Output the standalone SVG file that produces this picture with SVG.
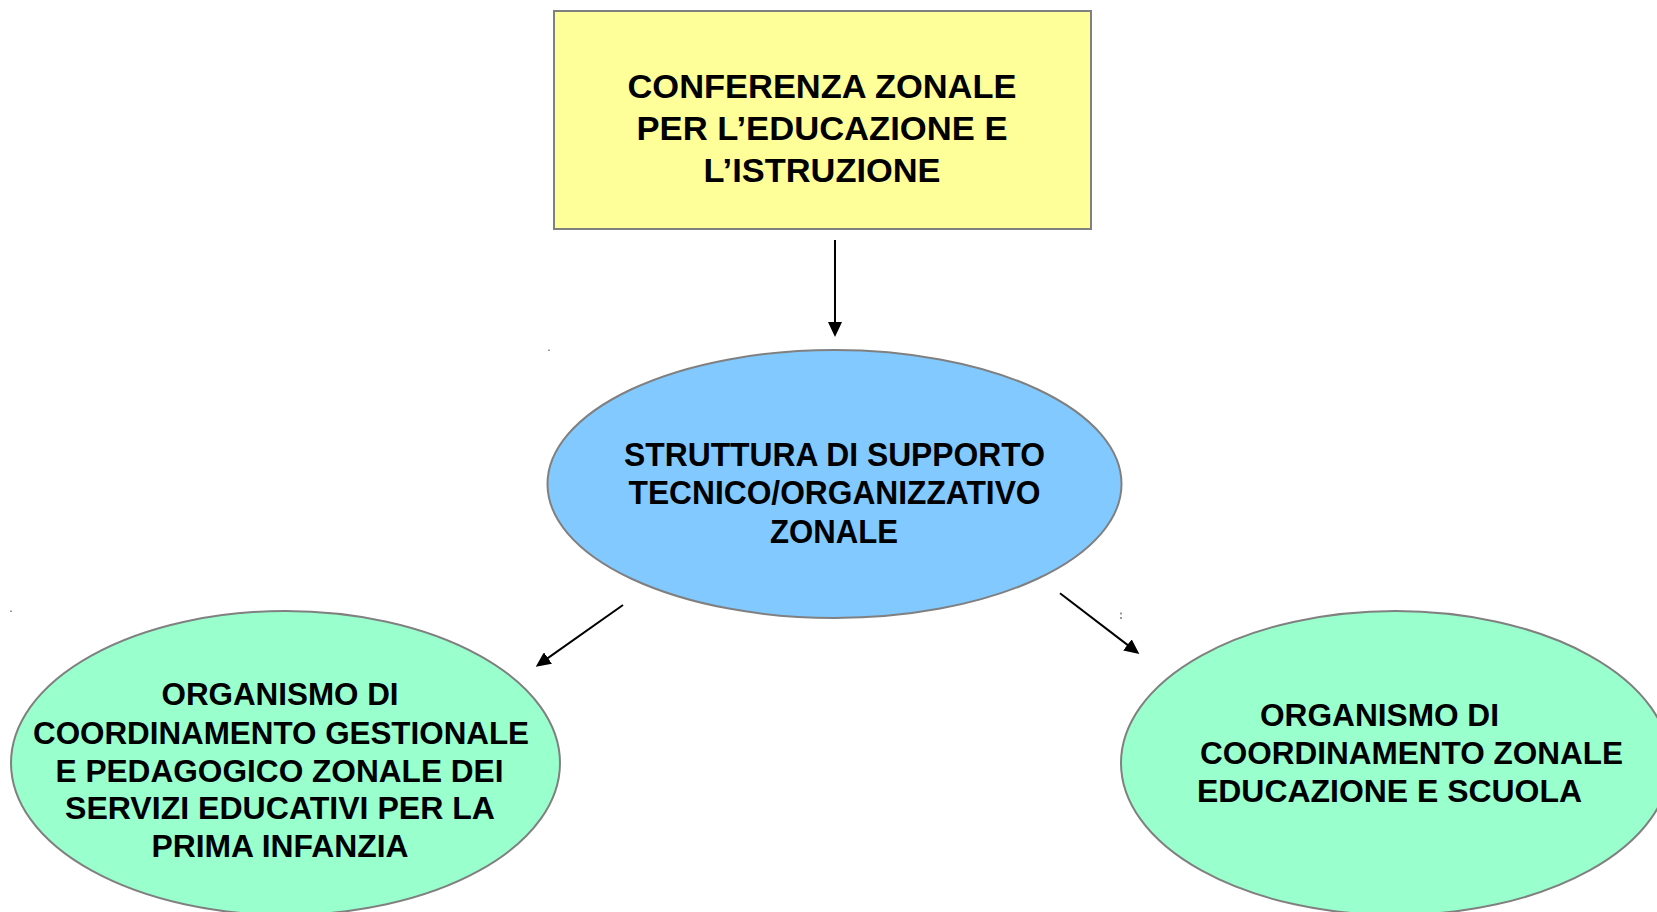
<svg xmlns="http://www.w3.org/2000/svg" width="1657" height="912" viewBox="0 0 1657 912">
<style>
  .lbl { font-family: "Liberation Sans", Arial, sans-serif; font-weight: bold; fill: #000; }
  .big { font-size: 34px; }
  .mid { font-size: 33px; }
  .sm { font-size: 32px; }
  .shape { stroke: #808080; stroke-width: 2; }
  .conn { stroke: #000; stroke-width: 2; fill: none; }
  .speck { fill: #999; }
</style>
<defs>
  <marker id="ah" markerUnits="userSpaceOnUse" markerWidth="15" markerHeight="14" refX="5" refY="7" orient="auto">
    <path d="M0,0 L15,7 L0,14 z" fill="#000"/>
  </marker>
</defs>
<rect width="1657" height="912" fill="#fff"/>

<g id="node-conferenza">
  <rect class="shape" x="554" y="11" width="537" height="218" fill="#FFFF99"/>
  <text class="lbl big" text-anchor="middle" x="822" y="98" textLength="389" lengthAdjust="spacingAndGlyphs">CONFERENZA ZONALE</text>
  <text class="lbl big" text-anchor="middle" x="822" y="140" textLength="371" lengthAdjust="spacingAndGlyphs">PER L’EDUCAZIONE E</text>
  <text class="lbl big" text-anchor="middle" x="822" y="182" textLength="237" lengthAdjust="spacingAndGlyphs">L’ISTRUZIONE</text>
</g>

<g id="node-struttura">
  <ellipse class="shape" cx="834.5" cy="484" rx="287" ry="134" fill="#82C9FF"/>
  <text class="lbl mid" text-anchor="middle" x="834.5" y="466" textLength="421" lengthAdjust="spacingAndGlyphs">STRUTTURA DI SUPPORTO</text>
  <text class="lbl mid" text-anchor="middle" x="834.5" y="504" textLength="412" lengthAdjust="spacingAndGlyphs">TECNICO/ORGANIZZATIVO</text>
  <text class="lbl mid" text-anchor="middle" x="834" y="542.5" textLength="128" lengthAdjust="spacingAndGlyphs">ZONALE</text>
</g>

<g id="node-organismo-infanzia">
  <ellipse class="shape" cx="285.5" cy="763" rx="274.5" ry="152" fill="#99FFCC"/>
  <text class="lbl sm" text-anchor="middle" x="280" y="705" textLength="237" lengthAdjust="spacingAndGlyphs">ORGANISMO DI</text>
  <text class="lbl sm" text-anchor="middle" x="281" y="743.5" textLength="496" lengthAdjust="spacingAndGlyphs">COORDINAMENTO GESTIONALE</text>
  <text class="lbl sm" text-anchor="middle" x="279.5" y="781.5" textLength="448" lengthAdjust="spacingAndGlyphs">E PEDAGOGICO ZONALE DEI</text>
  <text class="lbl sm" text-anchor="middle" x="280" y="819" textLength="430" lengthAdjust="spacingAndGlyphs">SERVIZI EDUCATIVI PER LA</text>
  <text class="lbl sm" text-anchor="middle" x="280" y="857" textLength="257" lengthAdjust="spacingAndGlyphs">PRIMA INFANZIA</text>
</g>

<g id="node-organismo-scuola">
  <ellipse class="shape" cx="1395.5" cy="763" rx="274.5" ry="152" fill="#99FFCC"/>
  <text class="lbl sm" x="1260" y="726" textLength="239" lengthAdjust="spacingAndGlyphs">ORGANISMO DI</text>
  <text class="lbl sm" x="1200" y="764" textLength="423" lengthAdjust="spacingAndGlyphs">COORDINAMENTO ZONALE</text>
  <text class="lbl sm" x="1197" y="801.5" textLength="385" lengthAdjust="spacingAndGlyphs">EDUCAZIONE E SCUOLA</text>
</g>

<g id="connectors">
  <line class="conn" x1="835" y1="240" x2="835" y2="327" marker-end="url(#ah)"/>
  <line class="conn" x1="623" y1="605" x2="543.9" y2="660.9" marker-end="url(#ah)"/>
  <line class="conn" x1="1060" y1="593.3" x2="1131.4" y2="647.9" marker-end="url(#ah)"/>
</g>

<g id="specks">
  <rect class="speck" x="548" y="349.5" width="2" height="1.5"/>
  <rect class="speck" x="10" y="610.5" width="2" height="1.5"/>
  <rect class="speck" x="1120" y="612.5" width="2" height="2"/>
  <rect class="speck" x="1120" y="617" width="2" height="2"/>
</g>
</svg>
